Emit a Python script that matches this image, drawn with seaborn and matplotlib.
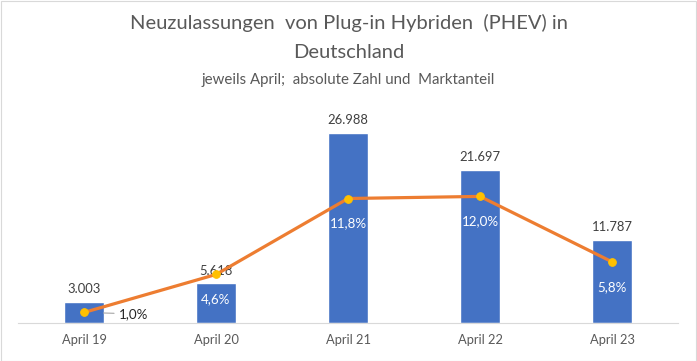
import numpy as np
import pandas as pd
import matplotlib
matplotlib.use("Agg")
import matplotlib.pyplot as plt
from matplotlib.patches import Rectangle
import seaborn as sns

# Daten
monate = ["April 19", "April 20", "April 21", "April 22", "April 23"]
zulassungen = [3003, 5618, 26988, 21697, 11787]
marktanteil = [1.0, 4.6, 11.8, 12.0, 5.8]

df = pd.DataFrame({"monat": monate, "anzahl": zulassungen, "anteil": marktanteil})
df["pos"] = np.arange(len(df))

sns.set_style("white")
plt.rcParams["font.family"] = ["Lato", "DejaVu Sans"]

grau = "#595959"
blau = "#4472C4"
orange = "#ED7D31"

fig = plt.figure(figsize=(6.97, 3.61), dpi=100)
ax = fig.add_axes([18 / 697, 38 / 361, 660 / 697, 211 / 361])

sns.barplot(data=df, x="monat", y="anzahl", color=blau, saturation=1,
            width=0.3, ax=ax)
ax.set_ylim(0, 30000)
ax.set_xlim(-0.5, len(df) - 0.5)
ax.set_xlabel("")
ax.set_ylabel("")
ax.set_yticks([])
ax.tick_params(axis="x", colors=grau, labelsize=9.3, length=0, pad=8)
for s in ["top", "left", "right"]:
    ax.spines[s].set_visible(False)
ax.spines["bottom"].set_color("#D9D9D9")

# Werte über den Balken
for p, v in zip(ax.patches, df["anzahl"]):
    ax.annotate(f"{v:,}".replace(",", "."),
                (p.get_x() + p.get_width() / 2, p.get_height()),
                xytext=(0, 5), textcoords="offset points",
                ha="center", va="bottom", fontsize=9.4, color="#404040")

# Marktanteil auf zweiter Achse
ax2 = ax.twinx()
sns.lineplot(data=df, x="pos", y="anteil", color=orange, linewidth=2.3,
             marker="o", markersize=5.5, markerfacecolor="#FFC000",
             markeredgecolor="#FFC000", ax=ax2)
ax2.set_ylim(0, 20)
ax2.set_yticks([])
ax2.set_ylabel("")
ax2.set_xlabel("")
for s in ["top", "left", "right", "bottom"]:
    ax2.spines[s].set_visible(False)

for i, (x, v) in enumerate(zip(df["pos"], df["anteil"])):
    txt = f"{v:.1f}%".replace(".", ",")
    if i == 0:
        ax2.annotate(txt, (x, v), xytext=(25, -1), textcoords="offset points",
                     ha="left", va="center", fontsize=9.6, color="#262626",
                     arrowprops=dict(arrowstyle="-", color="#A6A6A6", lw=0.8,
                                     shrinkA=1, shrinkB=14))
    else:
        ax2.annotate(txt, (x, v), xytext=(0, -18), textcoords="offset points",
                     ha="center", va="center", fontsize=9.6, color="white")

fig.text(0.5, 1 - 23 / 361, "Neuzulassungen  von Plug-in Hybriden  (PHEV) in",
         ha="center", va="center", fontsize=14.5, color=grau)
fig.text(0.5, 1 - 53 / 361, "Deutschland", ha="center", va="center",
         fontsize=14.5, color=grau)
fig.text(0.5, 1 - 80 / 361, "jeweils April;  absolute Zahl und  Marktanteil",
         ha="center", va="center", fontsize=10.8, color=grau)

fig.patches.append(Rectangle((0.5 / 697, 0.5 / 361), 1 - 1.5 / 697, 1 - 1.5 / 361,
                             transform=fig.transFigure, fill=False,
                             edgecolor="#D9D9D9", linewidth=0.8))

fig.savefig("out.png", dpi=100, facecolor="white")
